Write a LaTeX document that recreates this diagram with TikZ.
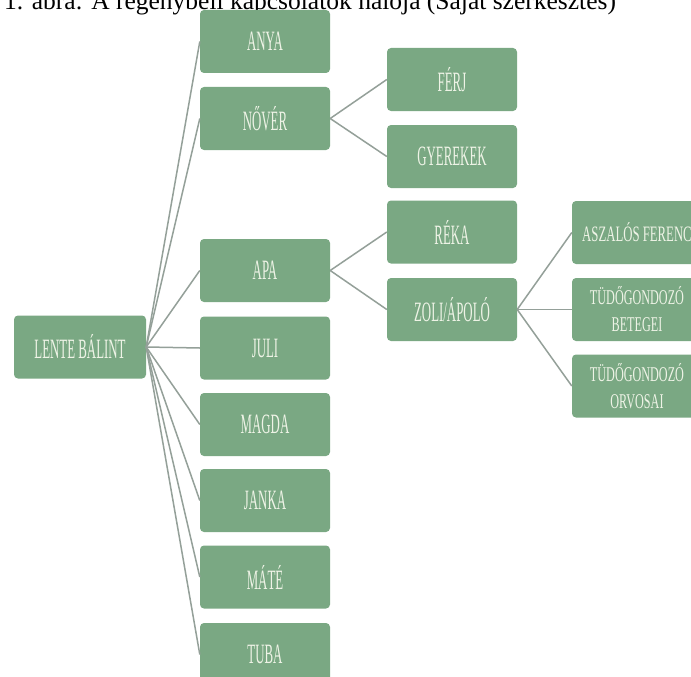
\documentclass[tikz,border=0pt]{standalone}
\usepackage{fontspec}
\setmainfont{Liberation Serif}
\newfontfamily\boxfont[FakeStretch=0.46]{Liberation Serif}
\newfontfamily\smallboxfont[FakeStretch=0.58]{Liberation Serif}
\definecolor{boxgreen}{RGB}{122,168,131}
\definecolor{boxtext}{RGB}{238,243,230}
\definecolor{linegray}{RGB}{148,160,153}
\tikzset{
  famnode/.style={rectangle, rounded corners=4pt, fill=boxgreen, text=boxtext,
    minimum width=130pt, minimum height=63pt, inner sep=0pt,
    font=\boxfont\fontsize{28}{28}\selectfont},
  twoline/.style={famnode, align=center, font=\smallboxfont\fontsize{21}{27}\selectfont},
  link/.style={draw=linegray, line width=1.5pt},
  captiontext/.style={anchor=base west, inner sep=0pt, font=\fontsize{25.5}{25.5}\selectfont}
}
\begin{document}
\begin{tikzpicture}[x=1pt, y=-1pt]
\useasboundingbox (0,0) rectangle (691,677);
\clip (0,0) rectangle (691,677);
\fill[white] (0,0) rectangle (691,677);
\node[captiontext] (caption) at (4,9.5) {1. ábra: A regénybeli kapcsolatok hálója (Saját szerkesztés)};
% root
\node[famnode, minimum width=132pt] (root) at (80,347) {LENTE BÁLINT};
% column 2
\node[famnode] (anya)  at (265,41.5)  {ANYA};
\node[famnode] (nover) at (265,118.5) {NŐVÉR};
\node[famnode] (apa)   at (265,270.5) {APA};
\node[famnode] (juli)  at (265,348)   {JULI};
\node[famnode] (magda) at (265,424.5) {MAGDA};
\node[famnode] (janka) at (265,500.5) {JANKA};
\node[famnode] (mate)  at (265,577)   {MÁTÉ};
\node[famnode] (tuba)  at (265,654.5) {TUBA};
% column 3
\node[famnode] (ferj)  at (452,79.5)  {FÉRJ};
\node[famnode] (gyer)  at (452,156.5) {GYEREKEK};
\node[famnode] (reka)  at (452,232)   {RÉKA};
\node[famnode] (zoli)  at (452,309.5) {ZOLI/ÁPOLÓ};
% column 4
\node[famnode, font=\smallboxfont\fontsize{22}{22}\selectfont] (aszalos) at (637,232.5) {ASZALÓS FERENC};
\node[twoline] (betegei) at (637,309.5) {TÜDŐGONDOZÓ\\BETEGEI};
\node[twoline] (orvosai) at (637,386)   {TÜDŐGONDOZÓ\\ORVOSAI};
% connectors
\foreach \c in {anya,nover,apa,juli,magda,janka,mate,tuba}
  \draw[link] (root.east) -- (\c.west);
\draw[link] (nover.east) -- (ferj.west);
\draw[link] (nover.east) -- (gyer.west);
\draw[link] (apa.east) -- (reka.west);
\draw[link] (apa.east) -- (zoli.west);
\draw[link] (zoli.east) -- (aszalos.west);
\draw[link] (zoli.east) -- (betegei.west);
\draw[link] (zoli.east) -- (orvosai.west);
\end{tikzpicture}
\end{document}
